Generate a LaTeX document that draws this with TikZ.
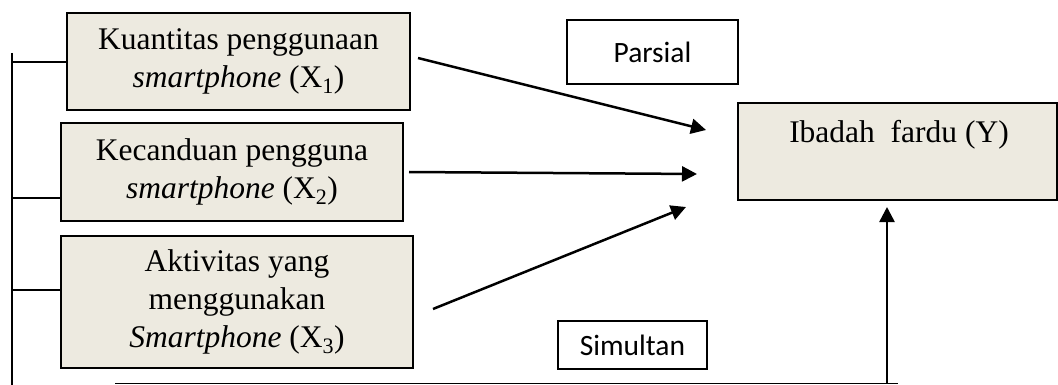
\documentclass[tikz,border=0pt]{standalone}
\usepackage{fontspec}
\setmainfont{Liberation Serif}
\newfontfamily\calib{Carlito}
\usetikzlibrary{arrows.meta}
\definecolor{boxfill}{RGB}{237,234,224}
\begin{document}
\begin{tikzpicture}[x=1pt,y=-1pt,
  varbox/.style={draw, line width=1.7pt, fill=boxfill, inner sep=0pt, align=center,
    font=\fontsize{31.5}{38}\selectfont},
  tagbox/.style={draw, line width=1.4pt, fill=white, inner sep=0pt,
    font=\calib\fontsize{29.5}{34}\selectfont},
  link/.style={line width=2.5pt, -{Triangle[length=15pt,width=15pt]}},
  plain/.style={line width=1.6pt}]
\useasboundingbox (0,0) rectangle (1058,385);

% independent variables
\node[varbox, minimum width=343pt, minimum height=97pt] (x1) at (238.5,61.5)
  {Kuantitas penggunaan\\ \textit{smartphone} (X\textsubscript{1})};
\node[varbox, minimum width=342pt, minimum height=98pt] (x2) at (232,172)
  {Kecanduan pengguna\\ \textit{smartphone} (X\textsubscript{2})};
\node[varbox, minimum width=352pt, minimum height=132pt] (x3) at (237,302)
  {Aktivitas yang\\ menggunakan\\ \textit{Smartphone} (X\textsubscript{3})};

% dependent variable
\node[varbox, minimum width=319pt, minimum height=97pt] (y) at (897.5,151.5) {};
\node[anchor=base, font=\fontsize{31.5}{38}\selectfont] (ytext) at (899,143)
  {Ibadah\ \ fardu (Y)};

% relation labels
\node[tagbox, minimum width=171pt, minimum height=64pt] (parsial) at (652.5,52)
  {\raisebox{-3pt}{Parsial}};
\node[tagbox, minimum width=149pt, minimum height=48pt] (simultan) at (632.5,345)
  {\raisebox{-4pt}{Simultan}};

% partial effects
\coordinate (a1s) at (418,58);   \coordinate (a1e) at (706,130);
\coordinate (a2s) at (409,172);  \coordinate (a2e) at (697,174);
\coordinate (a3s) at (433,309);  \coordinate (a3e) at (686,207);
\draw[link] (a1s) -- (a1e);
\draw[link] (a2s) -- (a2e);
\draw[link] (a3s) -- (a3e);

% simultaneous effect: bracket on the left, base line, riser to Y
\coordinate (sp0) at (12,53);
\coordinate (sp1) at (12,385);
\coordinate (t1) at (12,62);
\coordinate (t2) at (12,198);
\coordinate (t3) at (12,290);
\draw[plain] (sp0) -- (sp1);
\draw[plain] (t1) -- (t1 -| x1.west);
\draw[plain] (t2) -- (t2 -| x2.west);
\draw[plain] (t3) -- (t3 -| x3.west);
\coordinate (b0) at (115,383.5);
\coordinate (b1) at (898,383.5);
\coordinate (r0) at (887,383.5);
\coordinate (r1) at (887,207);
\draw[plain, line width=1.9pt] (b0) -- (b1);
\draw[link] (r0) -- (r1);
\end{tikzpicture}
\end{document}
